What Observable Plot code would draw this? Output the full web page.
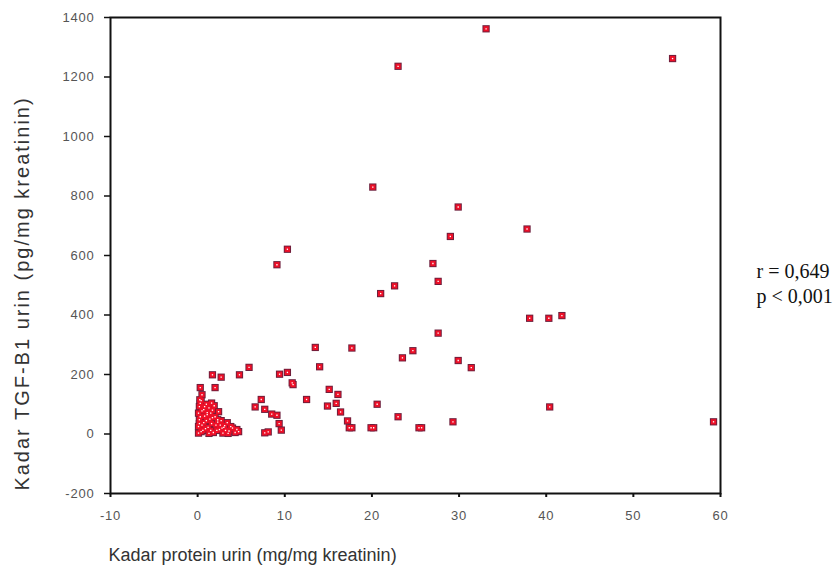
<!DOCTYPE html>
<html><head><meta charset="utf-8">
<script src="https://cdn.jsdelivr.net/npm/d3@7"></script>
<script src="https://cdn.jsdelivr.net/npm/@observablehq/plot@0.6"></script>
<style>
body{margin:0;background:#fff}
#chart{width:839px;height:577px}
g[aria-label="y-axis tick label"] text, g[aria-label="x-axis tick label"] text{letter-spacing:0.8px}
</style>
</head><body><div id="chart"></div>
<script>
// Kadar protein urin (mg/mg kreatinin)
const protein = [
  33.1, 23.0, 54.5, 20.1, 29.9, 37.8, 29.0, 10.3, 9.1, 27.0,
  27.6, 22.6, 21.0, 38.1, 40.3, 41.8, 27.6, 13.5, 17.7, 24.7,
  23.5, 29.9, 31.4, 5.9, 14.0, 1.7, 2.7, 4.8, 9.4, 10.3,
  10.85, 10.95, 15.1, 16.1, 7.3, 12.5, 15.9, 14.9, 16.4, 20.6,
  6.6, 7.7, 8.5, 9.1, 23.0, 29.3, 17.2, 9.35, 9.6, 8.1,
  7.7, 17.4, 17.7, 19.9, 20.2, 25.4, 25.7, 40.4, 59.2, 0.3,
  2.0, 0.5, 0.25,
  // cluster near the origin
  0.1, 0.1, 0.2, 0.1, 0.2, 0.3, 0.6, 0.7, 0.8, 0.7,
  1.0, 1.3, 1.2, 1.4, 1.5, 1.9, 1.8, 2.1, 2.0, 2.4,
  2.5, 2.7, 2.9, 3.1, 3.4, 3.6, 4.0, 4.3, 4.7, 1.6,
  0.4, 1.1, 2.3, 3.0,
  0.4, 0.5, 0.3, 0.5, 0.9, 1.0, 1.1, 1.6, 1.7, 2.2,
  2.3, 2.6, 3.2, 3.8, 1.3, 0.8, 1.7, 2.8, 3.5, 4.5,
  0.2, 1.5
];
// Kadar TGF-B1 urin (pg/mg kreatinin)
const tgf = [
  1362, 1236, 1262, 830, 763, 689, 664, 621, 569, 573,
  513, 498, 472, 389, 389, 398, 339, 291, 289, 280,
  256, 247, 223, 224, 226, 199, 191, 199, 201, 207,
  172, 166, 150, 133, 116, 116, 103, 94, 74, 100,
  91, 83, 67, 63, 58, 41, 44, 35, 13, 7,
  4, 21, 21, 21, 21, 21, 21, 91, 41, 156,
  156, 132, 115,
  3, 25, 48, 70, 92, 103, 12, 38, 60, 82,
  100, 88, 22, 50, 70, 95, 5, 30, 58, 75,
  15, 45, 3, 28, 38, 10, 20, 5, 8, 104,
  112, 72, 48, 22,
  8, 30, 58, 78, 18, 45, 65, 35, 55, 12,
  40, 30, 12, 25, 2, 92, 80, 20, 2, 15,
  35, 12
];
const xTicks = [-10, 0, 10, 20, 30, 40, 50, 60];
const yTicks = [-200, 0, 200, 400, 600, 800, 1000, 1200, 1400];
const xTitle = "Kadar protein urin (mg/mg kreatinin)";
const yTitle = "Kadar TGF-B1 urin (pg/mg kreatinin)";
const stats = ["r = 0,649", "p < 0,001"];

const data = protein.map((x, i) => ({x, y: tgf[i]}));

const chart = Plot.plot({
  width: 839, height: 577,
  marginLeft: 110, marginRight: 119, marginTop: 17, marginBottom: 84,
  x: {domain: [-10, 60]},
  y: {domain: [-200, 1400]},
  style: {fontFamily: "'Liberation Sans', Arial, sans-serif", background: "white"},
  marks: [
    Plot.dot(data, {x: "x", y: "y", symbol: "square", r: 4.1, fill: "#6e1f3c"}),
    Plot.dot(data, {x: "x", y: "y", symbol: "square", r: 3, fill: "#ee1028"}),
    Plot.dot(data, {x: "x", y: "y", symbol: "square", r: 0.75, fill: "white"}),
    Plot.axisY({ticks: yTicks, tickFormat: d => String(d), tickSize: 6, tickPadding: 10, fontSize: 13, fill: "#555", stroke: "#111", strokeWidth: 1.5, label: null}),
    Plot.axisX({ticks: xTicks, tickFormat: d => String(d), tickSize: 4, tickPadding: 13, fontSize: 13, fill: "#555", stroke: "#111", strokeWidth: 2, label: null}),
    Plot.frame({stroke: "#111", strokeWidth: 2}),
    Plot.text([yTitle], {frameAnchor: "left", textAnchor: "middle", rotate: -90, dx: -88, dy: 38, fontSize: 20, fill: "#333"}),
    Plot.text([xTitle], {frameAnchor: "bottom-left", textAnchor: "start", dx: -2, dy: 67, fontSize: 18, fill: "#333"}),
    Plot.text([stats.join("\n")], {frameAnchor: "right", textAnchor: "start", dx: 36, dy: 27, fontFamily: "'Liberation Serif', 'Times New Roman', serif", fontSize: 20, lineHeight: 1.25, fill: "#111"})
  ]
});
document.getElementById("chart").append(chart);
document.querySelectorAll("svg text").forEach(t => {
  if (t.textContent === yTitle) t.style.letterSpacing = "2px";
});
</script>
</body></html>
